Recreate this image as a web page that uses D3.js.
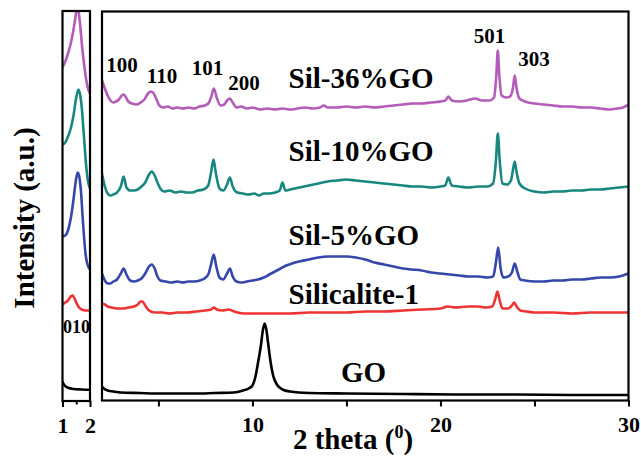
<!DOCTYPE html>
<html><head><meta charset="utf-8">
<script src="https://cdn.jsdelivr.net/npm/d3@7"></script>
<style>body{margin:0;background:#fff}svg{display:block}</style>
</head><body>
<script>
// ---------- DATA (2θ in degrees, intensity in a.u. incl. vertical offset) ----------
const sil36 = [[2.00,320],[2.15,312],[2.3,305],[2.45,300],[2.6,298],[2.75,299],[2.9,301],[3.05,305],[3.15,306],[3.25,304],[3.4,299],[3.6,297],[3.85,296],[4.05,298],[4.25,301],[4.45,307],[4.6,309],[4.75,307],[4.9,301],[5.05,295],[5.25,293],[5.5,294],[5.75,292],[6.0,293],[6.3,292],[6.6,293],[6.9,292],[7.2,294],[7.45,295],[7.65,297],[7.8,303],[7.95,312],[8.1,303],[8.3,295],[8.5,296],[8.65,300],[8.8,302],[8.95,298],[9.15,293],[9.4,294],[9.7,292],[10.0,293],[10.4,291],[10.8,292],[11.2,291],[11.6,292],[12.0,291],[12.4,292],[12.8,293],[13.2,292],[13.6,293],[13.8,295],[14.0,293],[14.5,293],[15.0,294],[15.5,293],[16.0,294],[16.5,293],[17.0,294],[17.5,295],[18.0,296],[18.5,297],[19.0,297],[19.5,298],[20.0,299],[20.25,300],[20.42,304],[20.6,300],[21.0,299],[21.4,300],[21.85,302],[22.2,300],[22.6,300],[22.85,303],[22.97,325],[23.05,350],[23.13,325],[23.25,305],[23.5,303],[23.7,304],[23.85,312],[23.95,325],[24.05,312],[24.2,302],[24.5,299],[25.0,297],[25.5,296],[26.0,295],[26.5,294],[27.0,294],[27.5,293],[28.0,293],[28.5,292],[29.0,291],[29.4,292],[29.7,293],[30.0,296]];
const sil10 = [[2.0,227],[2.15,214],[2.3,207],[2.45,205],[2.6,206],[2.8,208],[3.0,214],[3.15,224],[3.3,213],[3.5,210],[3.7,210],[3.9,211],[4.1,214],[4.3,218],[4.5,226],[4.65,229],[4.8,225],[4.95,218],[5.1,212],[5.3,209],[5.6,210],[5.9,208],[6.2,209],[6.5,208],[6.8,208],[7.1,210],[7.4,211],[7.65,215],[7.8,228],[7.93,241],[8.05,228],[8.25,212],[8.45,210],[8.65,216],[8.8,223],[8.95,214],[9.2,208],[9.5,207],[9.8,206],[10.1,207],[10.35,205],[10.6,207],[10.9,207],[11.2,208],[11.45,210],[11.6,218],[11.75,210],[12.0,211],[12.5,213],[13.0,215],[13.5,217],[14.0,219],[14.5,220],[15.0,221],[15.5,220],[16.0,219],[16.5,218],[17.0,217],[17.5,216],[18.0,215],[18.5,214],[19.0,214],[19.5,213],[20.0,214],[20.25,215],[20.42,223],[20.6,215],[21.0,214],[21.5,213],[22.0,214],[22.5,214],[22.8,217],[22.95,240],[23.05,267],[23.15,240],[23.3,217],[23.55,216],[23.75,220],[23.85,230],[23.95,239],[24.05,228],[24.2,217],[24.5,212],[25.0,209],[25.5,208],[26.0,209],[26.5,209],[27.0,210],[27.5,210],[28.0,211],[28.5,211],[29.0,212],[29.5,213],[30.0,214]];
const sil5 = [[2.0,127],[2.15,120],[2.3,117],[2.45,117],[2.6,119],[2.8,121],[3.0,127],[3.15,132],[3.3,126],[3.5,120],[3.7,119],[3.9,120],[4.1,122],[4.3,127],[4.5,134],[4.65,136],[4.8,132],[4.95,124],[5.1,120],[5.4,119],[5.7,118],[6.0,119],[6.3,118],[6.6,119],[6.9,119],[7.2,120],[7.45,122],[7.65,126],[7.8,136],[7.94,146],[8.08,134],[8.25,123],[8.45,121],[8.65,127],[8.8,132],[8.95,124],[9.15,119],[9.4,118],[9.7,119],[10.0,120],[10.3,121],[10.6,123],[10.9,126],[11.2,129],[11.5,132],[11.8,135],[12.1,137],[12.5,139],[13.0,141],[13.5,143],[14.0,144],[14.5,144],[15.0,144],[15.5,143],[16.0,141],[16.5,138],[17.0,136],[17.5,134],[18.0,132],[18.5,131],[19.0,130],[19.5,128],[20.0,127],[20.5,126],[21.0,125],[21.5,124],[22.0,124],[22.5,123],[22.8,124],[22.95,138],[23.07,153],[23.2,132],[23.35,123],[23.6,124],[23.8,128],[23.95,137],[24.1,128],[24.25,121],[24.5,120],[25.0,119],[25.5,119],[26.0,120],[26.5,120],[27.0,121],[27.5,121],[28.0,122],[28.5,123],[29.0,123],[29.5,124],[30.0,127]];
const silicalite = [[2.0,97],[2.15,96],[2.3,94],[2.5,93],[2.8,92],[3.1,92],[3.4,93],[3.7,94],[3.9,96],[4.05,99],[4.15,99],[4.3,95],[4.5,90],[4.8,88],[5.2,88],[5.6,87],[6.0,88],[6.5,88],[7.0,89],[7.5,90],[7.8,91],[7.95,93],[8.1,91],[8.4,90],[8.75,91],[8.9,90],[9.2,88],[9.6,87],[10.0,87],[11.0,87],[12.0,87],[13.0,88],[14.0,88],[15.0,88],[16.0,89],[17.0,89],[18.0,90],[19.0,91],[20.0,92],[20.4,94],[20.8,93],[21.5,94],[22.0,94],[22.4,93],[22.75,94],[22.92,102],[23.03,109],[23.15,100],[23.3,92],[23.6,92],[23.8,95],[23.92,98],[24.05,94],[24.25,90],[24.6,89],[25.0,88],[25.5,88],[26.0,88],[27.0,87],[28.0,88],[29.0,88],[30.0,88]];
const go = [[2.0,14],[2.1,12],[2.3,10],[2.6,9],[3.0,8],[4.0,7.5],[5.0,7],[6.0,7],[7.0,7],[8.0,7.5],[9.0,8],[9.5,10],[9.8,12],[10.0,15],[10.15,23],[10.3,38],[10.45,55],[10.57,72],[10.65,77],[10.73,72],[10.85,55],[10.97,38],[11.1,25],[11.3,16],[11.6,11],[12.0,9],[13.0,7.5],[15.0,7],[18.0,6.5],[21.0,6],[24.0,6],[27.0,5.5],[30.0,5.5]];

// low-angle panel (1–2°)
const sil36Low = [[1.0,333],[1.1,339],[1.2,347],[1.3,357],[1.4,371],[1.47,383],[1.53,394],[1.58,390],[1.64,376],[1.72,352],[1.8,333],[1.88,318],[1.95,310],[2.0,307]];
const sil10Low = [[1.0,256],[1.1,258],[1.2,264],[1.3,272],[1.4,285],[1.5,303],[1.58,311],[1.64,306],[1.7,293],[1.78,264],[1.86,235],[1.93,219],[2.0,212]];
const sil5Low = [[1.0,164],[1.1,165],[1.2,170],[1.3,182],[1.4,201],[1.48,219],[1.55,228],[1.6,225],[1.66,213],[1.75,176],[1.84,146],[1.92,135],[2.0,131]];
const silicaliteLow = [[1.0,96],[1.1,98],[1.2,100],[1.3,104],[1.37,105],[1.44,102],[1.5,98],[1.6,93],[1.7,91],[1.85,90],[2.0,90]];
const goLow = [[1.0,19],[1.03,17],[1.08,15],[1.2,12.7],[1.4,11.5],[1.7,11],[2.0,10.7]];

const seriesNames = ["Sil-36%GO","Sil-10%GO","Sil-5%GO","Silicalite-1","GO"];
const seriesColors = ["#b35cb9","#17877f","#3547ab","#ee3333","#000000"];
const mainSeries = [sil36, sil10, sil5, silicalite, go];
const lowSeries = [sil36Low, sil10Low, sil5Low, silicaliteLow, goLow];
// sample-name label anchors (2θ, intensity)
const nameAnchors = [[11.92,313],[11.92,239.5],[11.92,156],[11.92,97],[14.71,19]];

const hklLabels = ["100","110","101","200","501","303"];
const hklAnchors = [[3.06,329],[5.19,318],[7.61,326],[9.55,311],[22.61,358],[24.98,335]];
const lowHkl = {text:"010", at:[1.51,68]};

const mainTicks = [5,10,15,20,25,30];
const mainTickLabels = {10:"10",20:"20",30:"30"};
const lowTicks = [1,1.5,2];
const lowTickLabels = {1:"1",2:"2"};

// ---------- LAYOUT ----------
const W=641,H=460;
const font = "'Liberation Serif','Times New Roman',serif";
const xMain = d3.scaleLinear().domain([2,30]).range([102,628.5]);
const xLow = d3.scaleLinear().domain([1,2]).range([62.5,90]);
const y = d3.scaleLinear().domain([0,389]).range([400.5,11.5]);

const svg = d3.select("body").append("svg").attr("width",W).attr("height",H)
  .style("font-family",font).style("font-weight","bold");

const defs = svg.append("defs");
defs.append("clipPath").attr("id","clipMain").append("rect")
  .attr("x",102).attr("y",11.5).attr("width",526.5).attr("height",389);
defs.append("clipPath").attr("id","clipLow").append("rect")
  .attr("x",62.5).attr("y",11).attr("width",27.5).attr("height",390);

const lineMain = d3.line().x(d=>xMain(d[0])).y(d=>y(d[1])).curve(d3.curveMonotoneX);
const lineLow = d3.line().x(d=>xLow(d[0])).y(d=>y(d[1])).curve(d3.curveMonotoneX);

const gMain = svg.append("g").attr("clip-path","url(#clipMain)");
mainSeries.forEach((s,i)=>{
  gMain.append("path").attr("d",lineMain(s)).attr("fill","none")
    .attr("stroke",seriesColors[i]).attr("stroke-width",2.6).attr("stroke-linejoin","round");
});
const gLow = svg.append("g").attr("clip-path","url(#clipLow)");
lowSeries.forEach((s,i)=>{
  gLow.append("path").attr("d",lineLow(s)).attr("fill","none")
    .attr("stroke",seriesColors[i]).attr("stroke-width",2.6).attr("stroke-linejoin","round");
});

// frames
svg.append("rect").attr("x",102).attr("y",11.5).attr("width",526.5).attr("height",389)
  .attr("fill","none").attr("stroke","#000").attr("stroke-width",2.2);
svg.append("rect").attr("x",62.5).attr("y",11).attr("width",27.5).attr("height",390)
  .attr("fill","none").attr("stroke","#000").attr("stroke-width",2.2);

// axes
const axMain = svg.append("g").attr("transform","translate(0,400.5)")
  .call(d3.axisBottom(xMain).tickValues(mainTicks).tickSize(6).tickPadding(10)
    .tickFormat(d=>mainTickLabels[d]||""));
axMain.select(".domain").remove();
const axLow = svg.append("g").attr("transform","translate(0,401)")
  .call(d3.axisBottom(xLow).tickValues(lowTicks).tickSize(6).tickPadding(10)
    .tickFormat(d=>lowTickLabels[d]||""));
axLow.select(".domain").remove();
axLow.selectAll(".tick line").filter(d=>d===1.5).attr("y2",3.5);
[axMain,axLow].forEach(a=>{
  a.selectAll(".tick line").attr("stroke","#000").attr("stroke-width",2);
  a.selectAll(".tick text").attr("fill","#000").style("font-family",font)
    .style("font-weight","bold").style("font-size","22px");
});

// sample names
seriesNames.forEach((n,i)=>{
  svg.append("text").attr("x",xMain(nameAnchors[i][0])).attr("y",y(nameAnchors[i][1]))
    .style("font-size","29px").attr("fill","#000").text(n);
});
// hkl labels
hklLabels.forEach((t,i)=>{
  svg.append("text").attr("x",xMain(hklAnchors[i][0])).attr("y",y(hklAnchors[i][1]))
    .attr("text-anchor","middle").style("font-size","21px").attr("fill","#000").text(t);
});
svg.append("text").attr("x",xLow(lowHkl.at[0])).attr("y",y(lowHkl.at[1]))
  .attr("text-anchor","middle").style("font-size","18px").attr("fill","#000").text(lowHkl.text);

// axis titles
const xt = svg.append("text").attr("x",353).attr("y",449).attr("text-anchor","middle")
  .style("font-size","29px").attr("fill","#000");
xt.append("tspan").text("2 theta (");
xt.append("tspan").attr("dy",-11).style("font-size","18px").text("0");
xt.append("tspan").attr("dy",11).text(")");

svg.append("text").attr("transform","translate(34,218) rotate(-90)").attr("text-anchor","middle")
  .style("font-size","29px").attr("fill","#000").text("Intensity (a.u.)");
</script>
</body></html>
